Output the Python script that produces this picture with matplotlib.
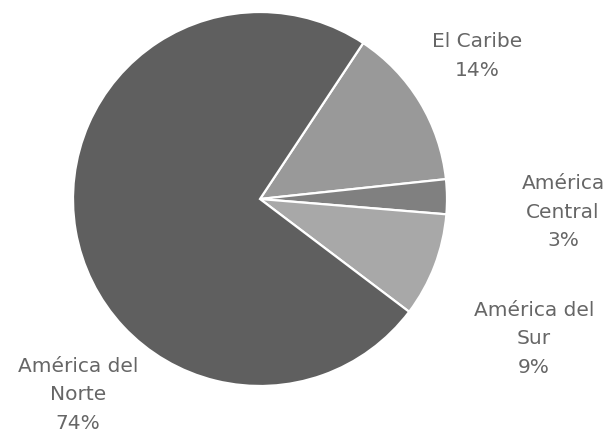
import matplotlib
matplotlib.use("Agg")
import matplotlib.pyplot as plt

# Share of visitors by region of origin
regions = ["El Caribe", "América\nCentral", "América del\nSur", "América del\nNorte"]
shares = [14, 3, 9, 74]
colors = ["#999999", "#808080", "#a8a8a8", "#5f5f5f"]

plt.rcParams["font.family"] = ["DejaVu Sans"]

W, H = 609, 434
fig = plt.figure(figsize=(W / 100, H / 100), dpi=100)
ax = fig.add_axes([0, 0, 1, 1])

cx, cy, r = 260, H - 199, 187
ax.pie(shares, colors=colors, startangle=56.5, counterclock=False,
       center=(cx, cy), radius=r, frame=True,
       wedgeprops=dict(edgecolor="white", linewidth=1.6))
ax.set_xlim(0, W)
ax.set_ylim(0, H)
ax.set_aspect("equal")
ax.axis("off")

# label anchors (centre of the text block, pixel units from top-left)
label_pos = [(477, 56), (563, 212), (534, 339), (78, 395)]
for name, val, (lx, ly) in zip(regions, shares, label_pos):
    ax.text(lx, H - ly, f"{name}\n{val}%", ha="center", va="center",
            fontsize=14.5, color="#666666", linespacing=1.65)

fig.savefig("out.png", dpi=100)
